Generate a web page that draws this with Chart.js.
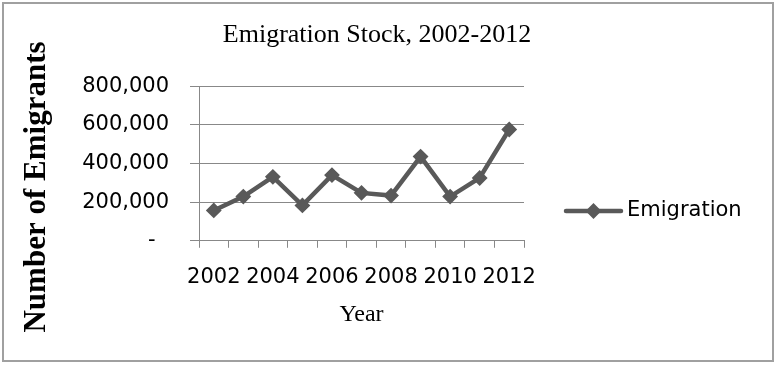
<!DOCTYPE html>
<html><head><meta charset="utf-8">
<script src="https://cdn.jsdelivr.net/npm/chart.js@4/dist/chart.umd.min.js"></script>
<style>html,body{margin:0;padding:0;background:#fff}#wrap{position:relative;width:776px;height:365px}</style>
</head><body><div id="wrap"><canvas id="c" width="776" height="365"></canvas></div>
<script>
// ---- data ----
const years = ['2002','2003','2004','2005','2006','2007','2008','2009','2010','2011','2012'];
const emigration = [157000, 229000, 331000, 183000, 340000, 248000, 234000, 436000, 229000, 325000, 576000];
const yTickValues = [0, 200000, 400000, 600000, 800000];
const seriesName = 'Emigration';
const chartTitle = 'Emigration Stock, 2002-2012';
const xTitle = 'Year';
const yTitle = 'Number of Emigrants';

const LINE = '#595959';
const GRID = '#888888';

function fmt(v){ return v === 0 ? '-  ' : String(v).replace(/\B(?=(\d{3})+(?!\d))/g, ','); }

const decor = {
  id: 'decor',
  beforeDraw(chart){
    const ctx = chart.ctx;
    ctx.save();
    ctx.fillStyle = '#fff';
    ctx.fillRect(0,0,chart.width,chart.height);
    ctx.strokeStyle = '#a0a0a0';
    ctx.lineWidth = 2;
    ctx.strokeRect(3,3,770,358);
    ctx.restore();
  },
  afterDraw(chart){
    const ctx = chart.ctx;
    const ds = chart.data.datasets[0];
    // y axis title
    ctx.save();
    ctx.translate(37, 187);
    ctx.rotate(-Math.PI/2);
    ctx.font = 'bold 31px "Liberation Serif"';
    ctx.fillStyle = '#000';
    ctx.textAlign = 'center';
    ctx.textBaseline = 'middle';
    ctx.fillText(yTitle, 0, 0);
    ctx.restore();
    // legend
    const ly = 211, lx0 = 566, lx1 = 621;
    ctx.save();
    ctx.strokeStyle = ds.borderColor;
    ctx.lineWidth = ds.borderWidth;
    ctx.lineCap = 'round';
    ctx.beginPath(); ctx.moveTo(lx0, ly); ctx.lineTo(lx1, ly); ctx.stroke();
    ctx.fillStyle = ds.pointBackgroundColor;
    ctx.strokeStyle = ds.pointBorderColor;
    ctx.lineWidth = ds.pointBorderWidth;
    Chart.helpers.drawPoint(ctx, {pointStyle:'rectRot', radius: ds.pointRadius, rotation:0, borderWidth: ds.pointBorderWidth}, (lx0+lx1)/2, ly);
    ctx.font = '21px "DejaVu Sans"';
    ctx.fillStyle = '#000';
    ctx.textAlign = 'left';
    ctx.textBaseline = 'middle';
    ctx.fillText(ds.label, 627, ly);
    ctx.restore();
  }
};

new Chart(document.getElementById('c'), {
  type: 'line',
  data: {
    labels: years,
    datasets: [{
      label: seriesName,
      data: emigration,
      borderColor: LINE,
      backgroundColor: LINE,
      borderWidth: 4.5,
      pointStyle: 'rectRot',
      pointRadius: 6.5,
      pointBorderWidth: 2,
      pointBackgroundColor: LINE,
      pointBorderColor: LINE,
      tension: 0,
      fill: false
    }]
  },
  options: {
    responsive: false,
    animation: false,
    layout: { padding: { left: 0, right: 22, top: 0, bottom: 42 } },
    plugins: {
      legend: { display: false },
      tooltip: { enabled: false },
      title: {
        display: true, text: chartTitle, color: '#000',
        font: { family: '"Liberation Serif"', size: 26, weight: 'normal' },
        padding: { top: 20, bottom: 35 }
      }
    },
    scales: {
      x: {
        type: 'category', offset: true,
        grid: { offset: true, drawOnChartArea: false, drawTicks: true, tickLength: 7, color: GRID, lineWidth: 1 },
        border: { display: true, color: GRID, width: 1 },
        ticks: {
          autoSkip: false, maxRotation: 0, minRotation: 0, padding: 17, color: '#000',
          font: { family: '"DejaVu Sans"', size: 21 },
          callback: (v, i) => (i % 2 === 0 ? years[i] : '')
        },
        title: { display: true, text: xTitle, color: '#000', font: { family: '"Liberation Serif"', size: 24, lineHeight: 0.667 }, padding: { top: 0, bottom: 0 } }
      },
      y: {
        min: 0, max: 800000,
        afterBuildTicks: (s) => { s.ticks = yTickValues.map(v => ({ value: v })); },
        afterFit: (s) => { s.width = 199; },
        grid: { color: GRID, lineWidth: 1, tickLength: 9 },
        border: { display: true, color: GRID, width: 1 },
        ticks: { padding: 21, color: '#000', font: { family: '"DejaVu Sans"', size: 21 }, callback: (v) => fmt(v) }
      },
      yr: {
        type: 'linear', position: 'right', display: true,
        grid: { display: false, drawTicks: false }, border: { display: false },
        ticks: { display: false },
        afterFit: (s) => { s.width = 230; }
      }
    }
  },
  plugins: [decor]
});
</script></body></html>
